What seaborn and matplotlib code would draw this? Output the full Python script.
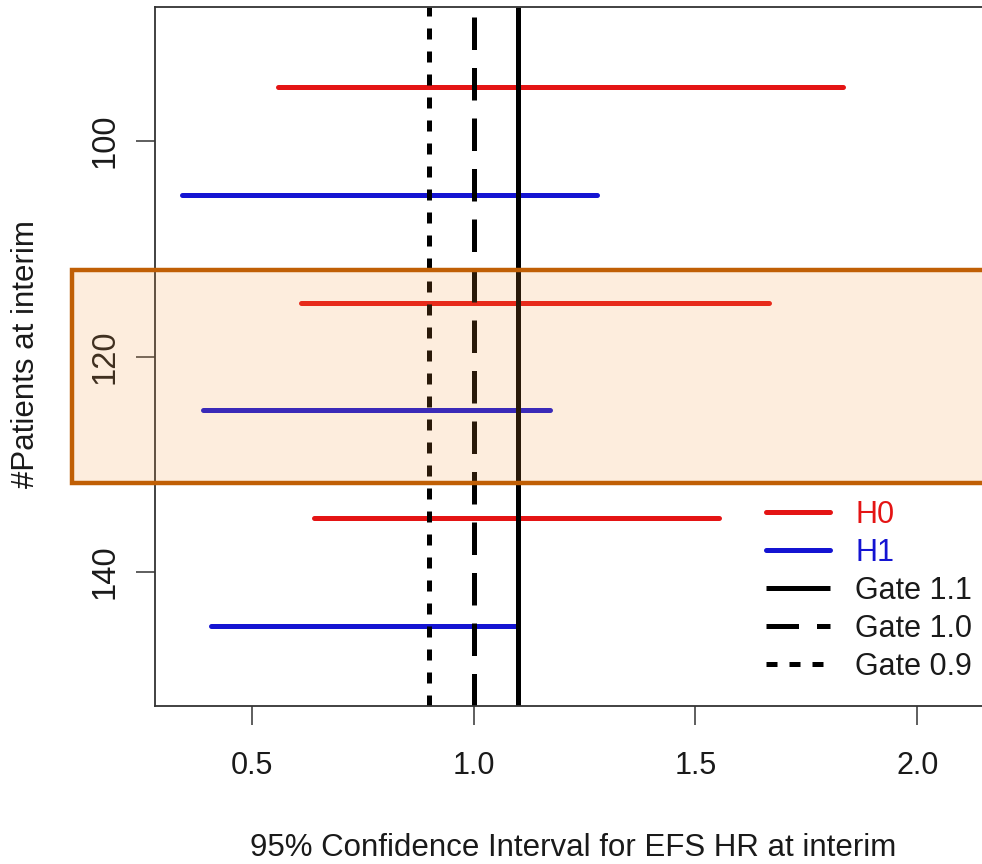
import matplotlib
matplotlib.use("Agg")
import matplotlib.pyplot as plt
from matplotlib.lines import Line2D
from matplotlib.patches import Rectangle
import seaborn as sns
import pandas as pd

# ---- data ----
patients = [100, 120, 140]
h0_lower = [0.560, 0.612, 0.640]
h0_upper = [1.832, 1.666, 1.554]
h1_lower = [0.343, 0.390, 0.409]
h1_upper = [1.279, 1.173, 1.096]
gates = [1.1, 1.0, 0.9]
gate_labels = ["Gate 1.1", "Gate 1.0", "Gate 0.9"]
x_ticks = [0.5, 1.0, 1.5, 2.0]
x_tick_labels = ["0.5", "1.0", "1.5", "2.0"]
y_ticks = [100, 120, 140]
y_tick_labels = ["100", "120", "140"]

# ---- long table for seaborn ----
rows = []
seg = 0
for i, n in enumerate(patients):
    for hyp, lo, hi, off in (("H0", h0_lower[i], h0_upper[i], -5),
                             ("H1", h1_lower[i], h1_upper[i], 5)):
        for v in (lo, hi):
            rows.append({"hr": v, "pos": n + off, "hyp": hyp, "seg": seg})
        seg += 1
df = pd.DataFrame(rows)

sns.set_style("white")
plt.rcParams["font.family"] = ["Liberation Sans", "DejaVu Sans"]
plt.rcParams["lines.solid_capstyle"] = "round"

W, H = 982, 864
fig = plt.figure(figsize=(W / 100, H / 100), dpi=100)
ax = fig.add_axes([155 / W, 1 - 706 / H, (991 - 155) / W, (706 - 7) / H])

RED, BLUE = "#E41414", "#1414D2"
TXT = "#1a1a1a"
LW = 3.6

sns.lineplot(data=df, x="hr", y="pos", hue="hyp", units="seg", estimator=None,
             palette={"H0": RED, "H1": BLUE}, linewidth=LW, legend=False, ax=ax)

styles = ["-", (0, (6.5, 3.6)), (0, (2.2, 2.4))]
for g, ls in zip(gates, styles):
    ax.axvline(g, color="black", lw=LW, linestyle=ls, solid_capstyle="butt",
               dash_capstyle="butt")

ax.set_xlim(0.282, 2.166)
ax.set_ylim(152.44, 87.56)

ax.set_xticks(x_ticks)
ax.set_xticklabels(x_tick_labels, fontsize=22, color=TXT)
ax.set_yticks(y_ticks)
ax.set_yticklabels(y_tick_labels, fontsize=23.5, color=TXT, rotation=90, va="center")
ax.tick_params(axis="x", length=13.5, width=1.1, pad=19, colors="#333333",
               labelcolor=TXT, bottom=True)
ax.tick_params(axis="y", length=13.5, width=1.1, pad=11, colors="#333333",
               labelcolor=TXT, left=True)

for side in ("left", "bottom", "top"):
    ax.spines[side].set_color("#333333")
    ax.spines[side].set_linewidth(1.3)
ax.spines["right"].set_visible(False)

ax.set_xlabel("95% Confidence Interval for EFS HR at interim", fontsize=22.5, color=TXT)
ax.xaxis.set_label_coords(573 / W, 1 - 848 / H, transform=fig.transFigure)
ax.xaxis.label.set_va("center")
ax.set_ylabel("#Patients at interim", fontsize=22.5, color=TXT)
ax.yaxis.set_label_coords(26 / W, 1 - 354 / H, transform=fig.transFigure)
ax.yaxis.label.set_va("center")

handles = [Line2D([], [], color=RED, lw=LW),
           Line2D([], [], color=BLUE, lw=LW)]
for ls in styles:
    handles.append(Line2D([], [], color="black", lw=LW, linestyle=ls,
                          dash_capstyle="butt", solid_capstyle="butt"))
labels = ["H0", "H1"] + gate_labels
leg = ax.legend(handles, labels, loc="upper left", frameon=False, fontsize=22,
                handlelength=2.1, handletextpad=0.82, labelspacing=0.26,
                borderpad=0, borderaxespad=0,
                bbox_to_anchor=(766 / W, 1 - 500 / H), bbox_transform=fig.transFigure)
for t, c in zip(leg.get_texts(), [RED, BLUE, TXT, TXT, TXT]):
    t.set_color(c)

# translucent highlight band around the 120-patient interim
rect = Rectangle((72 / W, 1 - 483 / H), (1010 - 72) / W, (483 - 270) / H,
                 transform=fig.transFigure, facecolor=(0.97, 0.60, 0.23, 0.17),
                 edgecolor="#C05F05", lw=3.2, zorder=10, clip_on=False)
fig.add_artist(rect)

fig.savefig("out.png", dpi=100)
